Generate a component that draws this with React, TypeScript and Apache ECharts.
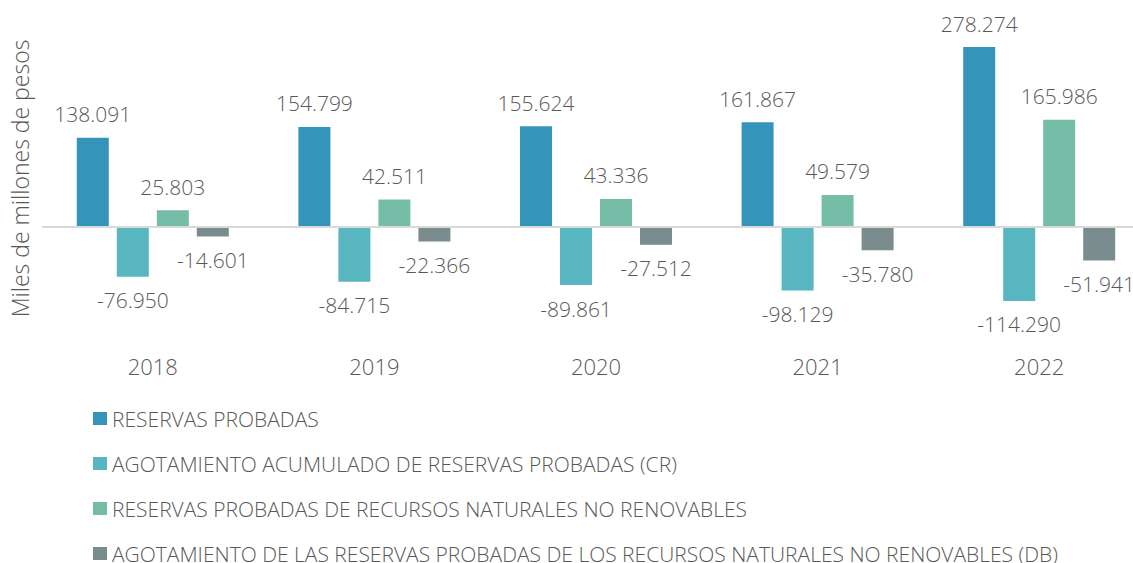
import React, { useEffect, useRef } from "react";
import * as echarts from "echarts";

const categories = ["2018", "2019", "2020", "2021", "2022"];
const seriesNames = [
  "RESERVAS PROBADAS",
  "AGOTAMIENTO ACUMULADO DE RESERVAS PROBADAS (CR)",
  "RESERVAS PROBADAS DE RECURSOS NATURALES NO RENOVABLES",
  "AGOTAMIENTO DE LAS RESERVAS PROBADAS DE LOS RECURSOS NATURALES NO RENOVABLES (DB)",
];
const reservasProbadas = [138091, 154799, 155624, 161867, 278274];
const agotamientoCR = [-76950, -84715, -89861, -98129, -114290];
const reservasNoRenovables = [25803, 42511, 43336, 49579, 165986];
const agotamientoDB = [-14601, -22366, -27512, -35780, -51941];
const colors = ["#3494BA", "#58B6C0", "#75BDA7", "#7A8C8E"];

const fmt = (v: number) => {
  const s = Math.abs(v).toString().replace(/\B(?=(\d{3})+(?!\d))/g, ".");
  return (v < 0 ? "-" : "") + s;
};

const FONT = "'Open Sans', 'Noto Sans', sans-serif";
const TXT = "#595959";

export default function App() {
  const ref = useRef<HTMLDivElement>(null);
  useEffect(() => {
    if (!ref.current) return;
    const chart = echarts.init(ref.current, undefined, { renderer: "svg" });
    const allData = [reservasProbadas, agotamientoCR, reservasNoRenovables, agotamientoDB];
    chart.setOption({
      animation: false,
      textStyle: { fontFamily: FONT },
      grid: { left: 40, right: 0, top: 33, height: 291 },
      legend: {
        orient: "vertical",
        left: 93,
        top: 408,
        height: 300,
        padding: 0,
        itemWidth: 14,
        itemHeight: 13,
        itemGap: 24,
        icon: "rect",
        textStyle: { fontFamily: FONT, fontSize: 21, lineHeight: 21, color: TXT, fontWeight: 300 },
        data: seriesNames,
      },
      xAxis: {
        type: "category",
        data: categories,
        axisLine: { show: false, onZero: false },
        axisTick: { show: false },
        axisLabel: { margin: 31, fontSize: 22, color: TXT, fontFamily: FONT, fontWeight: 300 },
      },
      yAxis: {
        type: "value",
        min: -150000,
        max: 300000,
        axisLabel: { show: false },
        splitLine: { show: false },
        axisLine: { show: false },
        axisTick: { show: false },
        name: "Miles de millones de pesos",
        nameLocation: "middle",
        nameGap: 11,
        nameTextStyle: { fontSize: 23, color: TXT, fontFamily: FONT, fontWeight: 300 },
      },
      series: allData.map((d, i) => ({
        name: seriesNames[i],
        type: "bar",
        data: d,
        barWidth: 32,
        barGap: "25%",
        itemStyle: { color: colors[i] },
        label: {
          show: true,
          position: i % 2 === 0 ? "top" : "bottom",
          distance: 13,
          formatter: (p: any) => fmt(p.value),
          fontSize: 21,
          color: TXT,
          fontFamily: FONT,
          fontWeight: 300,
        },
        ...(i === 0
          ? {
              markLine: {
                silent: true,
                symbol: "none",
                label: { show: false },
                lineStyle: { color: "#D9D9D9", width: 2, type: "solid" },
                data: [{ yAxis: 0 }],
              },
            }
          : {}),
      })),
    });
    return () => chart.dispose();
  }, []);
  return (
    <div style={{ position: "absolute", left: 0, top: 0, width: 1133, height: 563, overflow: "hidden", background: "#fff" }}>
      <div ref={ref} style={{ width: 1150, height: 563 }} />
    </div>
  );
}
